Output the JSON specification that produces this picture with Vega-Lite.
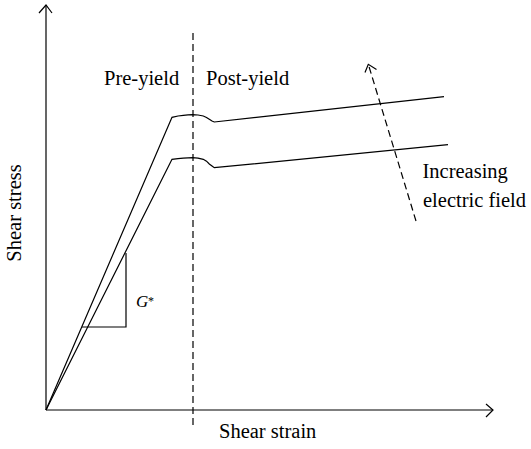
{
  "$schema": "https://vega.github.io/schema/vega-lite/v6.json",
  "width": 531,
  "height": 449,
  "padding": 0,
  "autosize": {"type": "fit", "contains": "padding"},
  "background": "white",
  "view": {"stroke": null},
  "config": {"font": "Liberation Serif"},
  "datasets": {
    "solid": [
      {"id": "xaxis", "ord": 1, "x": 0, "y": 0},
      {"id": "xaxis", "ord": 2, "x": 44.7, "y": 0},
      {"id": "xhead", "ord": 1, "x": 44.0, "y": 0.6},
      {"id": "xhead", "ord": 2, "x": 44.7, "y": 0},
      {"id": "xhead", "ord": 3, "x": 44.0, "y": -0.7},
      {"id": "yaxis", "ord": 1, "x": 0, "y": 0},
      {"id": "yaxis", "ord": 2, "x": 0, "y": 40.5},
      {"id": "yhead", "ord": 1, "x": -0.7, "y": 39.7},
      {"id": "yhead", "ord": 2, "x": 0, "y": 40.5},
      {"id": "yhead", "ord": 3, "x": 0.6, "y": 39.7},
      {"id": "upper", "ord": 1, "x": 0, "y": 0},
      {"id": "upper", "ord": 2, "x": 12.6, "y": 29.27},
      {"id": "upper", "ord": 3, "x": 13.2, "y": 29.4},
      {"id": "upper", "ord": 4, "x": 13.73, "y": 29.47},
      {"id": "upper", "ord": 5, "x": 14.2, "y": 29.51},
      {"id": "upper", "ord": 6, "x": 14.67, "y": 29.53},
      {"id": "upper", "ord": 7, "x": 15.2, "y": 29.5},
      {"id": "upper", "ord": 8, "x": 15.73, "y": 29.4},
      {"id": "upper", "ord": 9, "x": 16.05, "y": 29.25},
      {"id": "upper", "ord": 10, "x": 16.33, "y": 29.07},
      {"id": "upper", "ord": 11, "x": 16.6, "y": 28.9},
      {"id": "upper", "ord": 12, "x": 16.83, "y": 28.8},
      {"id": "upper", "ord": 13, "x": 39.8, "y": 31.33},
      {"id": "lower", "ord": 1, "x": 0, "y": 0},
      {"id": "lower", "ord": 2, "x": 12.6, "y": 25.07},
      {"id": "lower", "ord": 3, "x": 13.2, "y": 25.14},
      {"id": "lower", "ord": 4, "x": 13.73, "y": 25.19},
      {"id": "lower", "ord": 5, "x": 14.2, "y": 25.22},
      {"id": "lower", "ord": 6, "x": 14.67, "y": 25.23},
      {"id": "lower", "ord": 7, "x": 15.2, "y": 25.18},
      {"id": "lower", "ord": 8, "x": 15.73, "y": 25.07},
      {"id": "lower", "ord": 9, "x": 16.05, "y": 24.88},
      {"id": "lower", "ord": 10, "x": 16.33, "y": 24.6},
      {"id": "lower", "ord": 11, "x": 16.6, "y": 24.4},
      {"id": "lower", "ord": 12, "x": 16.83, "y": 24.23},
      {"id": "lower", "ord": 13, "x": 40.2, "y": 26.53},
      {"id": "tri", "ord": 1, "x": 8.0, "y": 15.7},
      {"id": "tri", "ord": 2, "x": 8.0, "y": 8.3},
      {"id": "tri", "ord": 3, "x": 3.6, "y": 8.3},
      {"id": "ahead", "ord": 1, "x": 31.9, "y": 33.75},
      {"id": "ahead", "ord": 2, "x": 32.23, "y": 34.57},
      {"id": "ahead", "ord": 3, "x": 33.05, "y": 34.05}
    ],
    "dashed": [
      {"id": "yield", "ord": 1, "x": 14.7, "y": 37.7},
      {"id": "yield", "ord": 2, "x": 14.7, "y": -1.7},
      {"id": "field", "ord": 1, "x": 37.0, "y": 18.9},
      {"id": "field", "ord": 2, "x": 32.23, "y": 34.57}
    ],
    "labels": [
      {"label": "Pre-yield", "x": 5.8, "y": 32.5},
      {"label": "Post-yield", "x": 16.0, "y": 32.5},
      {"label": "Increasing", "x": 37.65, "y": 23.2},
      {"label": "electric field", "x": 37.7, "y": 20.3},
      {"label": "Shear strain", "x": 17.3, "y": -2.8}
    ]
  },
  "encoding": {
    "x": {"field": "x", "type": "quantitative", "scale": {"domain": [-4.6, 48.5], "nice": false, "zero": false}, "axis": null},
    "y": {"field": "y", "type": "quantitative", "scale": {"domain": [-3.9, 41], "nice": false, "zero": false}, "axis": null}
  },
  "layer": [
    {
      "data": {"name": "solid"},
      "mark": {"type": "line", "color": "black", "strokeWidth": 1.2, "clip": false},
      "encoding": {
        "detail": {"field": "id", "type": "nominal"},
        "order": {"field": "ord", "type": "quantitative"}
      }
    },
    {
      "data": {"name": "dashed"},
      "mark": {"type": "line", "color": "black", "strokeWidth": 1.2, "strokeDash": [7, 4], "clip": false},
      "encoding": {
        "detail": {"field": "id", "type": "nominal"},
        "order": {"field": "ord", "type": "quantitative"}
      }
    },
    {
      "data": {"name": "labels"},
      "mark": {"type": "text", "align": "left", "baseline": "alphabetic", "fontSize": 20.5, "font": "Liberation Serif", "color": "black"},
      "encoding": {"text": {"field": "label"}}
    },
    {
      "data": {"values": [{"label": "Shear stress", "x": -3.1, "y": 19.7}]},
      "mark": {"type": "text", "align": "center", "baseline": "middle", "angle": 270, "fontSize": 20.5, "font": "Liberation Serif", "color": "black"},
      "encoding": {"text": {"field": "label"}}
    },
    {
      "data": {"values": [{"label": "G", "x": 9.0, "y": 10.3}]},
      "mark": {"type": "text", "align": "left", "baseline": "alphabetic", "fontSize": 17, "fontStyle": "italic", "font": "Liberation Serif", "color": "black"},
      "encoding": {"text": {"field": "label"}}
    },
    {
      "data": {"values": [{"label": "*", "x": 10.2, "y": 11.4}]},
      "mark": {"type": "text", "align": "left", "baseline": "top", "fontSize": 12, "font": "Liberation Serif", "color": "black"},
      "encoding": {"text": {"field": "label"}}
    }
  ]
}
